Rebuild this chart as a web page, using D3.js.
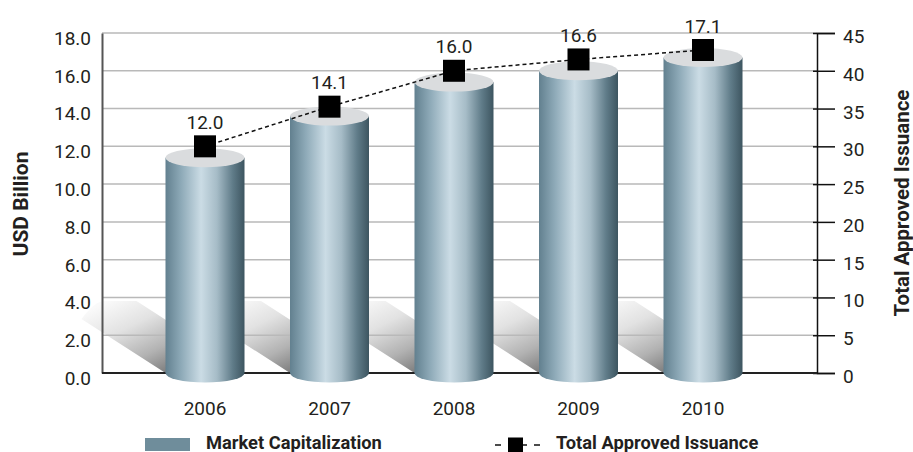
<!DOCTYPE html>
<html>
<head>
<meta charset="utf-8">
<script src="https://cdn.jsdelivr.net/npm/d3@7/dist/d3.min.js"></script>
<style>
  html, body { margin: 0; padding: 0; background: #ffffff; }
  svg { display: block; font-family: Roboto, "DejaVu Sans", sans-serif; }
</style>
</head>
<body>
<svg id="chart" width="913" height="452"></svg>
<script>
// ---- Data ----
const years = ["2006", "2007", "2008", "2009", "2010"];
const marketCap = [11.4, 13.6, 15.4, 16.0, 16.7];          // bars, USD Billion (left axis)
const approvedIssuance = [12.0, 14.1, 16.0, 16.6, 17.1];   // line, labelled values
const leftTicks = [0, 2, 4, 6, 8, 10, 12, 14, 16, 18];
const rightTicks = [0, 5, 10, 15, 20, 25, 30, 35, 40, 45];
const leftTitle = "USD Billion";
const rightTitle = "Total Approved Issuance";
const barLegend = "Market Capitalization";
const lineLegend = "Total Approved Issuance";

// ---- Layout ----
const plot = { left: 102, right: 817, top: 33, bottom: 373 };
const firstCenter = 205, lastCenter = 703;
const barWidth = 79, capRy = 9.5, markerSize = 22;
const textColor = "#231f20";

const svg = d3.select("#chart");

const x = d3.scalePoint().domain(years).range([firstCenter, lastCenter]);
const y = d3.scaleLinear().domain([0, 18]).range([plot.bottom, plot.top]);
const yR = d3.scaleLinear().domain([0, 45]).range([plot.bottom, plot.top]);

// ---- Gradients ----
const defs = svg.append("defs");
const cyl = defs.append("linearGradient").attr("id", "cyl")
  .attr("x1", 0).attr("y1", 0).attr("x2", 1).attr("y2", 0);
[[0, "#62808f"], [0.2, "#8eaab8"], [0.45, "#cbdce5"], [0.65, "#a6bcc7"],
 [0.85, "#607c89"], [1, "#3d5560"]].forEach(([o, c]) =>
  cyl.append("stop").attr("offset", o).attr("stop-color", c));

const sh = defs.append("linearGradient").attr("id", "shadow")
  .attr("x1", 0.1).attr("y1", 0.1).attr("x2", 0.8).attr("y2", 1);
[[0, "#fafafa"], [0.35, "#e2e2e2"], [0.7, "#b2b2b2"], [1, "#767676"]].forEach(([o, c]) =>
  sh.append("stop").attr("offset", o).attr("stop-color", c));

// ---- Shadows (behind everything) ----
svg.append("g").selectAll("path").data(years).join("path")
  .attr("d", d => {
    const bx = x(d) - barWidth / 2, b = y(0);
    return `M${bx - 84},${b - 54} Q${bx - 70},${b - 73} ${bx - 60},${b - 72} L${bx - 29},${b - 72} L${bx + 30},${b - 34} L${bx + 30},${b} L${bx},${b} Z`;
  })
  .attr("fill", "url(#shadow)");

// ---- Gridlines ----
svg.append("g").selectAll("line").data(leftTicks.filter(t => t > 0)).join("line")
  .attr("x1", plot.left).attr("x2", plot.right)
  .attr("y1", d => y(d)).attr("y2", d => y(d))
  .attr("stroke", "#b9b9b9").attr("stroke-width", 1.5);

// ---- Left axis ----
const gL = svg.append("g").attr("transform", `translate(${plot.left},0)`)
  .call(d3.axisLeft(y).tickValues(leftTicks).tickFormat(d3.format(".1f")).tickSize(0).tickPadding(11));
gL.select(".domain").attr("stroke", "#555").attr("stroke-width", 2);
gL.selectAll("text").attr("font-size", 19).attr("fill", textColor)
  .attr("font-family", "Roboto, sans-serif").attr("dy", "0.6em");

// ---- Right axis ----
const gR = svg.append("g").attr("transform", `translate(${plot.right},0)`)
  .call(d3.axisRight(yR).tickValues(rightTicks).tickSize(18).tickPadding(8));
gR.select(".domain").attr("stroke", "#111").attr("stroke-width", 1.5);
gR.selectAll(".tick line").attr("x1", -4).attr("stroke", "#111").attr("stroke-width", 1.5);
gR.selectAll("text").attr("font-size", 19).attr("fill", textColor)
  .attr("font-family", "Roboto, sans-serif").attr("dy", "0.5em");

// ---- Baseline ----
svg.append("line")
  .attr("x1", plot.left).attr("x2", plot.right)
  .attr("y1", y(0)).attr("y2", y(0))
  .attr("stroke", "#222").attr("stroke-width", 2);

// ---- Cylinders ----
const bars = svg.append("g").selectAll("g").data(years.map((d, i) => ({ year: d, v: marketCap[i] })))
  .join("g");
bars.append("ellipse")
  .attr("cx", d => x(d.year)).attr("cy", y(0))
  .attr("rx", barWidth / 2).attr("ry", capRy)
  .attr("fill", "url(#cyl)");
bars.append("rect")
  .attr("x", d => x(d.year) - barWidth / 2).attr("width", barWidth)
  .attr("y", d => y(d.v)).attr("height", d => y(0) - y(d.v))
  .attr("fill", "url(#cyl)");
bars.append("ellipse")
  .attr("cx", d => x(d.year)).attr("cy", d => y(d.v))
  .attr("rx", barWidth / 2).attr("ry", capRy)
  .attr("fill", "#dadcde");

// ---- X labels ----
svg.append("g").selectAll("text").data(years).join("text")
  .attr("x", d => x(d)).attr("y", 415)
  .attr("text-anchor", "middle").attr("font-size", 19).attr("fill", textColor)
  .text(d => d);

// ---- Line series ----
const linePts = years.map((d, i) => ({ year: d, v: approvedIssuance[i] }));
svg.append("path").datum(linePts)
  .attr("d", d3.line().x(d => x(d.year)).y(d => y(d.v)))
  .attr("fill", "none").attr("stroke", "#111").attr("stroke-width", 1.5)
  .attr("stroke-dasharray", "4,3");
svg.append("g").selectAll("rect").data(linePts).join("rect")
  .attr("x", d => x(d.year) - markerSize / 2).attr("y", d => y(d.v) - markerSize / 2)
  .attr("width", markerSize).attr("height", markerSize).attr("fill", "#000");
svg.append("g").selectAll("text").data(linePts).join("text")
  .attr("x", d => x(d.year)).attr("y", d => y(d.v) - markerSize / 2 - 6.5)
  .attr("text-anchor", "middle").attr("font-size", 19).attr("fill", textColor)
  .text(d => d3.format(".1f")(d.v));

// ---- Axis titles ----
svg.append("text")
  .attr("transform", "translate(28,204) rotate(-90)")
  .attr("text-anchor", "middle").attr("font-size", 21).attr("font-weight", 700)
  .attr("fill", textColor).text(leftTitle);
svg.append("text")
  .attr("transform", "translate(909,203) rotate(-90)")
  .attr("text-anchor", "middle").attr("font-size", 20.5).attr("font-weight", 700)
  .attr("fill", textColor).text(rightTitle);

// ---- Legend ----
const lg = svg.append("g");
lg.append("rect").attr("x", 145).attr("y", 438).attr("width", 45).attr("height", 13)
  .attr("fill", "#6f8d9b");
lg.append("text").attr("x", 206).attr("y", 449).attr("font-size", 18.3).attr("font-weight", 700)
  .attr("fill", textColor).text(barLegend);
lg.append("line").attr("x1", 495).attr("x2", 541).attr("y1", 445).attr("y2", 445)
  .attr("stroke", "#111").attr("stroke-width", 1.5).attr("stroke-dasharray", "6,7");
lg.append("rect").attr("x", 508).attr("y", 437.5).attr("width", 15).attr("height", 15)
  .attr("fill", "#000");
lg.append("text").attr("x", 556).attr("y", 449).attr("font-size", 18.3).attr("font-weight", 700)
  .attr("fill", textColor).text(lineLegend);
</script>
</body>
</html>
